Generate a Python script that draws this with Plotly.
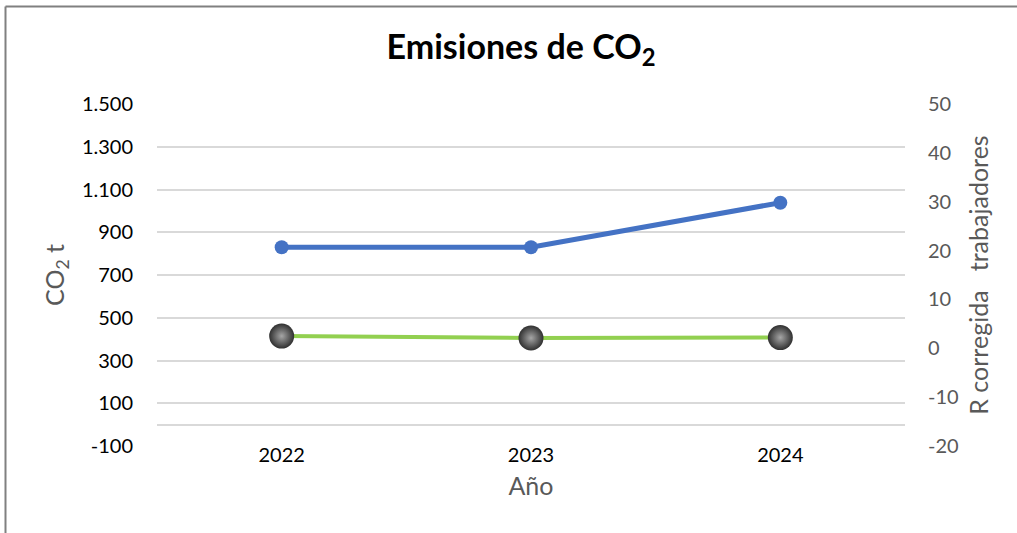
import plotly.graph_objects as go

# Data
years = ["2022", "2023", "2024"]
co2_t = [830, 830, 1038]
r_corregida = [2.5, 2.1, 2.2]

left_ticks = [-100, 100, 300, 500, 700, 900, 1100, 1300, 1500]
right_ticks = [-20, -10, 0, 10, 20, 30, 40, 50]


def es_label(v):
    # Spanish style: '.' as thousands separator, plain hyphen for negatives
    return f"{v:,d}".replace(",", ".")


W, H = 1017, 533
L, R, T, B = 157, 112, 104, 87
FONT = "Lato, 'Open Sans', sans-serif"
GREY_TXT = "#595959"
GRID = "#d9d9d9"

fig = go.Figure()

fig.add_trace(go.Scatter(
    x=years, y=co2_t, yaxis="y", mode="lines+markers",
    line=dict(color="#4472C4", width=5),
    marker=dict(size=14, color="#4472C4"),
    name="CO2 t", showlegend=False,
))

fig.add_trace(go.Scatter(
    x=years, y=r_corregida, yaxis="y2", mode="lines+markers",
    line=dict(color="#92D050", width=4),
    marker=dict(size=25, color="#303030",
                gradient=dict(type="radial", color="#a6a6a6"),
                line=dict(width=0)),
    name="R corregida trabajadores", showlegend=False,
))

# chart frame (top and left edges)
def px_x(p):
    return (p - L) / (W - L - R)


def px_y(p):
    return 1 - (p - T) / (H - T - B)


fig.add_shape(type="line", xref="paper", yref="paper",
              x0=px_x(5.5), x1=px_x(W + 5), y0=px_y(6.5), y1=px_y(6.5),
              line=dict(color="#808080", width=2))
fig.add_shape(type="line", xref="paper", yref="paper",
              x0=px_x(5.5), x1=px_x(5.5), y0=px_y(6.5), y1=px_y(H + 5),
              line=dict(color="#808080", width=2))

fig.update_layout(
    width=W, height=H,
    margin=dict(l=L, r=R, t=T, b=B),
    paper_bgcolor="white", plot_bgcolor="white",
    font=dict(family=FONT, size=20, color="#000000"),
    title=dict(text="<b>Emisiones de CO<sub>2</sub></b>",
               x=521 / W, xanchor="center", y=1 - 47 / H, yanchor="middle",
               font=dict(size=34, color="#000000", family=FONT)),
    xaxis=dict(
        type="category", range=[-0.5, 2.5],
        showgrid=False, showline=False, zeroline=False,
        ticks="", tickfont=dict(size=20, color="#000000"),
        ticklabelstandoff=-5,
        title=dict(text="Año", font=dict(size=25, color=GREY_TXT), standoff=12),
    ),
    yaxis=dict(
        range=[-100, 1500], tickvals=left_ticks,
        ticktext=[es_label(v) for v in left_ticks],
        showgrid=True, gridcolor=GRID, gridwidth=1.5,
        zeroline=True, zerolinecolor=GRID, zerolinewidth=1.5,
        showline=False, ticks="",
        ticklabelstandoff=23,
        tickfont=dict(size=20, color="#000000"),
        title=dict(text="CO<sub>2</sub> t", font=dict(size=25, color=GREY_TXT), standoff=10),
    ),
    yaxis2=dict(
        range=[-20, 50], tickvals=right_ticks,
        ticktext=[es_label(v) for v in right_ticks],
        overlaying="y", side="right",
        showgrid=False, zeroline=False, showline=False, ticks="",
        ticklabelstandoff=22,
        tickfont=dict(size=20, color=GREY_TXT),
        title=dict(text="R corregida\u00a0\u00a0 trabajadores",
                   font=dict(size=25, color=GREY_TXT), standoff=12),
    ),
)

fig.write_html("out.html")
